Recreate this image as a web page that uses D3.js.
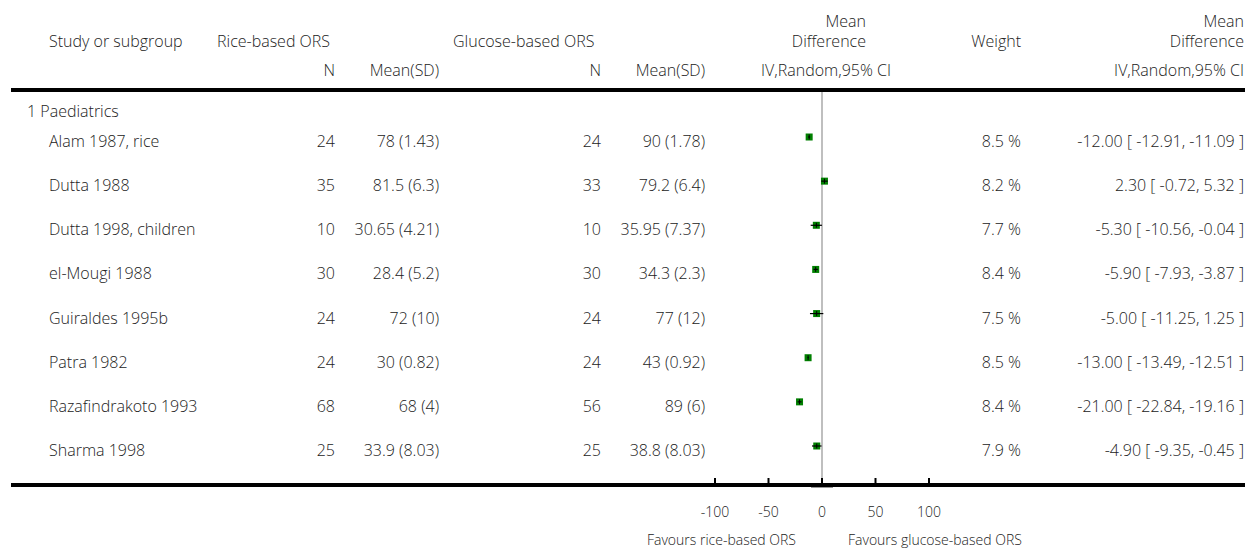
<!DOCTYPE html>
<html lang="en">
<head>
  <meta charset="UTF-8">
  <title>Forest plot - rice vs glucose ORS</title>
  <script src="https://cdn.jsdelivr.net/npm/d3@7"></script>
  <style>
    body { margin: 0; background: #fff; }
    svg text { font-family: "Open Sans", Lato, sans-serif; font-weight: 300; font-size: 16px; fill: #222; }
    svg text.foot { font-size: 14px; }
  </style>
</head>
<body>
<div id="chart"></div>
<script>
  // data
  const studies = ["Alam 1987, rice", "Dutta 1988", "Dutta 1998, children", "el-Mougi 1988",
    "Guiraldes 1995b", "Patra 1982", "Razafindrakoto 1993", "Sharma 1998"];
  const riceN = [24, 35, 10, 30, 24, 24, 68, 25];
  const riceMean = ["78 (1.43)", "81.5 (6.3)", "30.65 (4.21)", "28.4 (5.2)", "72 (10)", "30 (0.82)", "68 (4)", "33.9 (8.03)"];
  const glucN = [24, 33, 10, 30, 24, 24, 56, 25];
  const glucMean = ["90 (1.78)", "79.2 (6.4)", "35.95 (7.37)", "34.3 (2.3)", "77 (12)", "43 (0.92)", "89 (6)", "38.8 (8.03)"];
  const weights = ["8.5 %", "8.2 %", "7.7 %", "8.4 %", "7.5 %", "8.5 %", "8.4 %", "7.9 %"];
  const md = [-12.00, 2.30, -5.30, -5.90, -5.00, -13.00, -21.00, -4.90];
  const lo = [-12.91, -0.72, -10.56, -7.93, -11.25, -13.49, -22.84, -9.35];
  const hi = [-11.09, 5.32, -0.04, -3.87, 1.25, -12.51, -19.16, -0.45];
  const ticks = [-100, -50, 0, 50, 100];

  const W = 1248, H = 551;
  const svg = d3.select("#chart").append("svg").attr("width", W).attr("height", H);

  const x = d3.scaleLinear().domain([-100, 100]).range([715, 929]);
  const rowY = d3.scaleLinear().domain([0, 7]).range([147, 456]); // baselines

  // plain hyphen for negatives, like the original
  const fmt = d3.formatLocale({ decimal: ".", thousands: ",", grouping: [3], currency: ["", ""], minus: "-" }).format(".2f");

  function txt(px, py, s, anchor, cls) {
    svg.append("text").attr("x", px).attr("y", py).attr("class", cls || null)
      .attr("text-anchor", anchor || "start").text(s);
  }

  // header
  txt(49, 47, "Study or subgroup");
  txt(217, 47, "Rice-based ORS");
  txt(335, 76, "N", "end");
  txt(439, 76, "Mean(SD)", "end");
  txt(453, 47, "Glucose-based ORS");
  txt(601, 76, "N", "end");
  txt(705, 76, "Mean(SD)", "end");
  txt(866, 27, "Mean", "end");
  txt(866, 47, "Difference", "end");
  txt(826, 76, "IV,Random,95% CI", "middle");
  txt(1021, 47, "Weight", "end");
  txt(1244, 27, "Mean", "end");
  txt(1244, 47, "Difference", "end");
  txt(1244, 76, "IV,Random,95% CI", "end");

  // rules
  svg.append("rect").attr("x", 11).attr("y", 88).attr("width", 1234).attr("height", 4).attr("fill", "#000");

  txt(27, 117, "1 Paediatrics");

  // zero line
  svg.append("line").attr("x1", x(0)).attr("x2", x(0)).attr("y1", 92).attr("y2", 483)
    .attr("stroke", "#bfbfbf").attr("stroke-width", 2);

  // rows
  studies.forEach((s, i) => {
    const y = rowY(i);
    txt(49, y, s);
    txt(335, y, riceN[i], "end");
    txt(439, y, riceMean[i], "end");
    txt(601, y, glucN[i], "end");
    txt(705, y, glucMean[i], "end");
    txt(1021, y, weights[i], "end");
    txt(1244, y, fmt(md[i]) + " [ " + fmt(lo[i]) + ", " + fmt(hi[i]) + " ]", "end");

    const cy = y - 10;
    svg.append("rect").attr("x", x(md[i]) - 3.5).attr("y", cy - 3.5)
      .attr("width", 7).attr("height", 7).attr("fill", "#008000");
    svg.append("line").attr("x1", x(lo[i])).attr("x2", x(hi[i])).attr("y1", cy).attr("y2", cy)
      .attr("stroke", "#000").attr("stroke-width", 1.2);
    svg.append("line").attr("x1", x(md[i])).attr("x2", x(md[i])).attr("y1", cy - 2.5).attr("y2", cy + 2.5)
      .attr("stroke", "#000").attr("stroke-width", 1);
  });

  // bottom axis
  svg.append("rect").attr("x", 11).attr("y", 483).attr("width", 1234).attr("height", 4).attr("fill", "#000");
  svg.append("line").attr("x1", x(0) - 11).attr("x2", x(0) + 11).attr("y1", 487.5).attr("y2", 487.5)
    .attr("stroke", "#999").attr("stroke-width", 1);
  ticks.forEach(t => {
    svg.append("line").attr("x1", x(t)).attr("x2", x(t)).attr("y1", 478).attr("y2", 484)
      .attr("stroke", "#000").attr("stroke-width", 2);
    txt(x(t), 517, String(t), "middle", "foot");
  });
  txt(x(0) - 26, 545, "Favours rice-based ORS", "end", "foot");
  txt(x(0) + 26, 545, "Favours glucose-based ORS", "start", "foot");
</script>
</body>
</html>
